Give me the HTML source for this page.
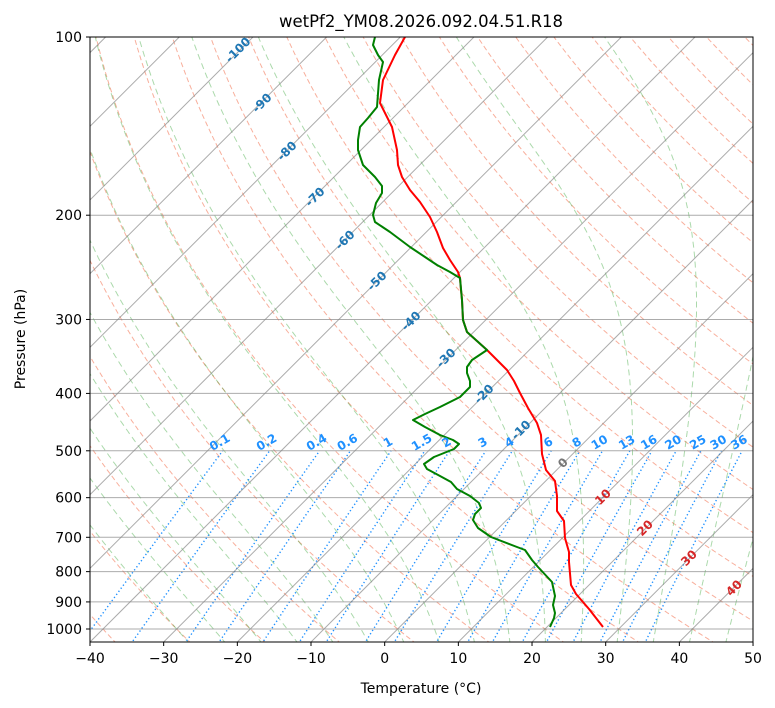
<!DOCTYPE html>
<html><head><meta charset="utf-8">
<style>
html,body{margin:0;padding:0;background:#fff;}
svg{display:block;font-family:"DejaVu Sans","Liberation Sans",sans-serif;}
</style></head>
<body>
<svg id="s" width="775" height="708" xmlns="http://www.w3.org/2000/svg">
<defs><clipPath id="c"><rect x="90" y="37" width="663" height="605"/></clipPath></defs>
<rect width="775" height="708" fill="#fff"/>
<g id="bg" clip-path="url(#c)"></g>
<g id="data" clip-path="url(#c)"></g>
<g id="lab"></g>
<rect x="90" y="37" width="663" height="605" fill="none" stroke="#000" stroke-width="1"/>
<g id="ax" font-size="14"></g>
<text x="421" y="27" font-size="16.5" text-anchor="middle">wetPf2_YM08.2026.092.04.51.R18</text>
<text x="421" y="693" font-size="14" text-anchor="middle">Temperature (°C)</text>
<text transform="translate(25,339) rotate(-90)" font-size="14" text-anchor="middle">Pressure (hPa)</text>
</svg>
<script>
(function(){
var NS="http://www.w3.org/2000/svg";
function Y(p){return 37+592*Math.log10(p/100);}
function X(T,p){return 90+(T+40)*7.367+1.0*(642-Y(p));}
function el(par,tag,at,txt){var e=document.createElementNS(NS,tag);for(var k in at)e.setAttribute(k,at[k]);if(txt!=null)e.textContent=txt;par.appendChild(e);return e;}
var bg=document.getElementById('bg'),dg=document.getElementById('data'),lab=document.getElementById('lab'),ax=document.getElementById('ax');
function poly(pts,at){var d=pts.map(function(q,i){return (i?'L':'M')+q[0].toFixed(1)+' '+q[1].toFixed(1);}).join('');at.d=d;at.fill='none';return el(bg,'path',at);}
var ps=[];for(var p=1060;p>=95;p-=5)ps.push(p);
for(var t0=-40;t0<=260;t0+=10){var pts=ps.map(function(p){return [X((t0+273.15)*Math.pow(p/1000,0.2857)-273.15,p),Y(p)];});
poly(pts,{stroke:'#f26d4a','stroke-opacity':0.55,'stroke-width':1,'stroke-dasharray':'5,3'});}
function es(T){return 6.112*Math.exp(17.67*T/(T+243.5));}
function dTdp(T,p){var Tk=T+273.15,e=es(T),rs=0.622*e/(p-e);var Rd=287.04,Cp=1005.7,Lv=2.501e6;
return (Rd*Tk+Lv*rs)/(Cp+Lv*Lv*rs*0.622/(Rd*Tk*Tk))/p;}
for(var t0=-30;t0<=50;t0+=5){var pts=[],T=t0,p=1000;
var down=[];var Td=t0;for(var pp=1000;pp<1060;pp+=2){Td+=dTdp(Td,pp)*2;down.push([X(Td,pp+2),Y(pp+2)]);}
pts.push([X(T,p),Y(p)]);
while(p>100){var h=-2;var k1=dTdp(T,p),k2=dTdp(T+k1*h/2,p+h/2),k3=dTdp(T+k2*h/2,p+h/2),k4=dTdp(T+k3*h,p+h);T+=h*(k1+2*k2+2*k3+k4)/6;p+=h;pts.push([X(T,p),Y(p)]);if(T<-130)break;}
poly(down.reverse().concat(pts),{stroke:'#2ca02c','stroke-opacity':0.4,'stroke-width':1,'stroke-dasharray':'6,4'});}
var ws=[0.1,0.2,0.4,0.6,1,1.5,2,3,4,6,8,10,13,16,20,25,30,36];
ws.forEach(function(w){var pts=[];for(var p=1060;p>=500;p-=10){var e=p*(w/1000)/(0.622+w/1000),l=Math.log(e/6.112),Td=243.5*l/(17.67-l);pts.push([X(Td,p),Y(p)]);}
poly(pts,{stroke:'#1e90ff','stroke-width':1.4,'stroke-dasharray':'1.3,2.5'});
var q=pts[pts.length-1];el(lab,'text',{x:q[0]-1,y:q[1]-5,'font-size':12,'font-weight':'bold',fill:'#1e90ff','text-anchor':'middle',transform:'rotate(-30 '+(q[0]-1)+' '+(q[1]-5)+')'},String(w));});
for(var T=-160;T<=60;T+=10){el(bg,'line',{x1:X(T,1060),y1:Y(1060),x2:X(T,95),y2:Y(95),stroke:'#888','stroke-opacity':0.7,'stroke-width':1});}
[100,200,300,400,500,600,700,800,900,1000].forEach(function(p){el(bg,'line',{x1:90,x2:753,y1:Y(p),y2:Y(p),stroke:'#888','stroke-opacity':0.7,'stroke-width':1});
el(ax,'line',{x1:86,x2:90,y1:Y(p),y2:Y(p),stroke:'#000'});el(ax,'text',{x:82,y:Y(p)+5,'text-anchor':'end'},String(p));});
for(var T=-40;T<=50;T+=10){var x=90+(T+40)*7.367;el(ax,'line',{x1:x,x2:x,y1:642,y2:646,stroke:'#000'});el(ax,'text',{x:x,y:663,'text-anchor':'middle'},(T<0?'\u2212'+(-T):String(T)));}
var il=[[-100,238,50],[-90,262,103],[-80,287,151],[-70,315,197],[-60,345,240],[-50,377,281],[-40,411,321],[-30,446,358],[-20,484,394],[-10,521,430],[0,563,463],[10,603,497],[20,645,528],[30,689,558],[40,734,588]];
il.forEach(function(a){var c=a[0]<0?'#1f77b4':(a[0]==0?'#777':'#d62728');el(lab,'text',{x:a[1],y:a[2]+4,'font-size':12,'font-weight':'bold',fill:c,'text-anchor':'middle',transform:'rotate(-45 '+a[1]+' '+a[2]+')'},String(a[0]));});
var red=[[405,37],[395,55],[383,80],[380,103],[392,127],[397,150],[398,165],[402,177],[410,190],[420,202],[430,217],[437,232],[443,248],[450,260],[458,272],[460,278],[461,290],[462,300],[463,320],[467,332],[477,341],[487,350],[497,360],[507,370],[514,381],[520,393],[528,408],[537,423],[541,435],[542,454],[546,470],[555,481],[557,496],[557,511],[564,521],[565,538],[569,552],[569,562],[571,585],[576,594],[589,609],[596,618],[603,627]];
var grn=[[375,37],[373,45],[378,55],[383,62],[379,80],[377,107],[368,118],[360,127],[358,140],[358,150],[363,165],[375,177],[382,186],[382,193],[376,203],[373,215],[375,222],[390,232],[410,247],[425,257],[437,265],[450,272],[460,278],[462,300],[463,320],[467,332],[477,341],[487,350],[478,356],[472,360],[467,367],[467,373],[470,381],[470,387],[460,397],[440,407],[425,414],[413,420],[425,427],[440,435],[453,440],[459,444],[454,449],[434,457],[424,464],[427,469],[440,476],[451,482],[457,489],[470,496],[479,503],[481,508],[475,514],[473,520],[478,528],[491,537],[517,547],[525,550],[532,560],[538,567],[552,582],[555,596],[553,605],[555,613],[554,618],[550,627]];
function dp(pts,c){var d=pts.map(function(q,i){return (i?'L':'M')+q[0]+' '+q[1];}).join('');el(dg,'path',{d:d,fill:'none',stroke:c,'stroke-width':2,'stroke-linejoin':'round'});}
dp(red,'#ff0000');dp(grn,'#008000');
})();
</script>
</body></html>
